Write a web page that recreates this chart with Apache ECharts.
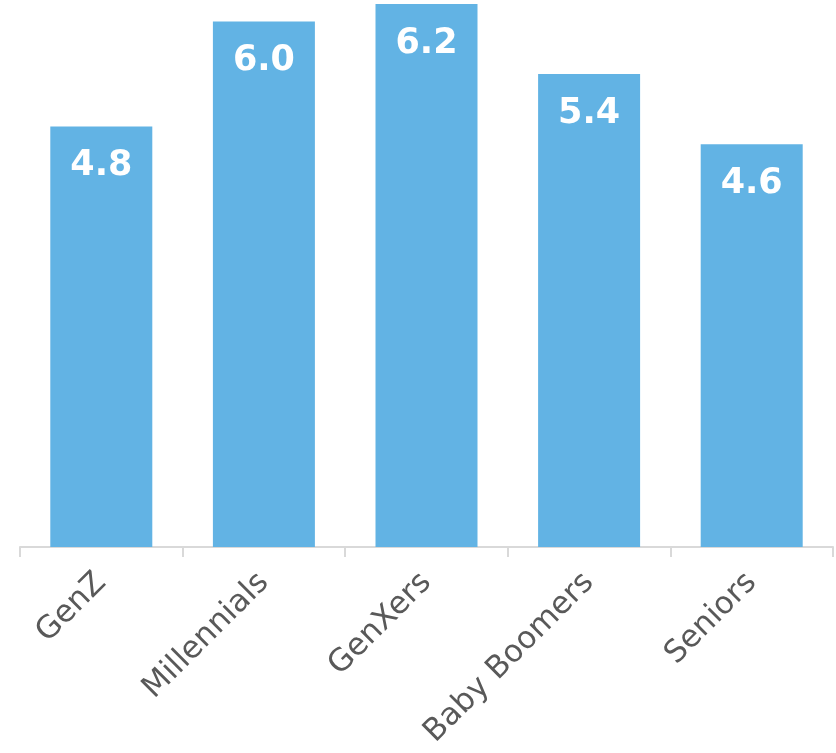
<!DOCTYPE html>
<html>
<head>
<meta charset="utf-8">
<script src="https://cdn.jsdelivr.net/npm/echarts@6/dist/echarts.min.js"></script>
<style>
  html, body { margin: 0; padding: 0; background: #fff; }
  #chart { width: 836px; height: 753px; }
</style>
</head>
<body>
<div id="chart"></div>
<script>
// 代际分布
const categories = ['GenZ', 'Millennials', 'GenXers', 'Baby Boomers', 'Seniors']
const values = [4.8, 6.0, 6.2, 5.4, 4.6]

const myChart = echarts.init(document.getElementById('chart'))
const option = {
  animation: false,
  grid: {
    left: 20,
    right: 3,
    top: 4,
    bottom: 206,
    containLabel: false
  },
  xAxis: {
    type: 'category',
    data: categories,
    axisLine: { lineStyle: { color: '#d9d9d9', width: 2 } },
    axisTick: { show: true, length: 10, lineStyle: { color: '#d9d9d9', width: 2 } },
    axisLabel: {
      rotate: 45,
      margin: 31,
      color: '#595959',
      fontSize: 31,
      fontFamily: 'DejaVu Sans'
    }
  },
  yAxis: {
    type: 'value',
    min: 0,
    max: 6.2,
    show: false,
    splitLine: { show: false }
  },
  series: [
    {
      type: 'bar',
      data: values,
      barWidth: 102,
      itemStyle: { color: '#62b3e4' },
      label: {
        show: true,
        position: 'insideTop',
        distance: 22,
        color: '#fff',
        fontSize: 35,
        fontWeight: 'bold',
        fontFamily: 'DejaVu Sans',
        formatter: (p) => p.value.toFixed(1)
      }
    }
  ]
}
myChart.setOption(option)
</script>
</body>
</html>
